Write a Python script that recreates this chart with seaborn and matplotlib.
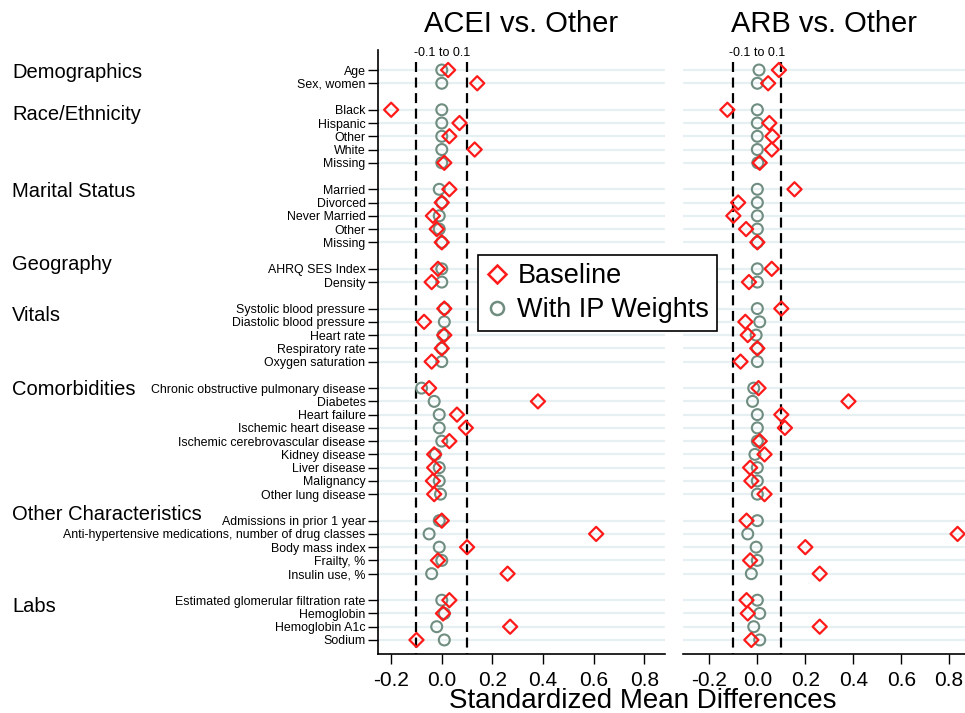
import numpy as np
import pandas as pd
import matplotlib
matplotlib.use("Agg")
import matplotlib.pyplot as plt
import matplotlib.transforms as mtransforms
from matplotlib.lines import Line2D
import seaborn as sns

# ---------- data ----------
groups = ["Demographics", "Race/Ethnicity", "Marital Status", "Geography",
          "Vitals", "Comorbidities", "Other Characteristics", "Labs"]
group_items = [
    ["Age", "Sex, women"],
    ["Black", "Hispanic", "Other", "White", "Missing"],
    ["Married", "Divorced", "Never Married", "Other", "Missing"],
    ["AHRQ SES Index", "Density"],
    ["Systolic blood pressure", "Diastolic blood pressure", "Heart rate",
     "Respiratory rate", "Oxygen saturation"],
    ["Chronic obstructive pulmonary disease", "Diabetes", "Heart failure",
     "Ischemic heart disease", "Ischemic cerebrovascular disease",
     "Kidney disease", "Liver disease", "Malignancy", "Other lung disease"],
    ["Admissions in prior 1 year",
     "Anti-hypertensive medications, number of drug classes",
     "Body mass index", "Frailty, %", "Insulin use, %"],
    ["Estimated glomerular filtration rate", "Hemoglobin", "Hemoglobin A1c",
     "Sodium"],
]

acei_base = [0.025, 0.14,
             -0.20, 0.07, 0.03, 0.13, 0.01,
             0.03, 0.0, -0.035, -0.02, 0.0,
             -0.015, -0.04,
             0.01, -0.07, 0.01, 0.0, -0.04,
             -0.05, 0.38, 0.06, 0.095, 0.03, -0.03, -0.03, -0.035, -0.03,
             0.0, 0.61, 0.10, -0.015, 0.26,
             0.03, 0.005, 0.27, -0.10]
acei_ipw = [0.0, 0.0,
            0.0, 0.0, 0.0, 0.0, 0.0,
            -0.01, 0.0, -0.01, -0.01, 0.0,
            0.0, 0.0,
            0.01, 0.01, 0.005, 0.0, 0.0,
            -0.08, -0.03, -0.01, -0.01, 0.0, -0.025, -0.01, -0.01, -0.005,
            -0.01, -0.05, -0.01, 0.0, -0.04,
            0.0, 0.01, -0.02, 0.01]
arb_base = [0.09, 0.045,
            -0.125, 0.05, 0.063, 0.06, 0.01,
            0.155, -0.08, -0.10, -0.047, 0.0,
            0.06, -0.035,
            0.10, -0.05, -0.04, 0.0, -0.07,
            0.005, 0.38, 0.10, 0.115, 0.01, 0.03, -0.03, -0.025, 0.03,
            -0.045, 0.835, 0.20, -0.03, 0.26,
            -0.045, -0.04, 0.26, -0.025]
arb_ipw = [0.007, 0.0,
           0.0, 0.0, 0.0, 0.0, 0.002,
           0.0, 0.0, 0.0, 0.0, 0.0,
           0.0, 0.0,
           0.0, 0.01, -0.005, 0.0, 0.0,
           -0.015, -0.02, 0.0, 0.0, 0.0, -0.01, 0.0, 0.0, 0.0,
           0.0, -0.04, -0.005, 0.0, -0.025,
           0.0, 0.01, -0.015, 0.01]

x_ticks = [-0.2, 0.0, 0.2, 0.4, 0.6, 0.8]
x_ticklabels = ["-0.2", "0.0", "0.2", "0.4", "0.6", "0.8"]

# small vertical nudges of the group headings (in rows)
heading_nudge = [0.15, 0.35, 0.15, -0.3, 0.5, 0.1, -0.45, 0.45]

# row positions: one empty row between groups
labels, rows, group_rows = [], [], []
r = 0
for g, items in zip(groups, group_items):
    group_rows.append(r)
    for it in items:
        labels.append(it)
        rows.append(r)
        r += 1
    r += 1

df = pd.DataFrame({"label": labels, "row": rows,
                   "acei_base": acei_base, "acei_ipw": acei_ipw,
                   "arb_base": arb_base, "arb_ipw": arb_ipw})

RED = "#ff1a1a"
GREEN = "#6f8d80"
GRID = "#e6eff1"

sns.set_theme(style="ticks")
plt.rcParams["font.family"] = ["Liberation Sans", "DejaVu Sans"]
plt.rcParams["text.color"] = "black"
plt.rcParams["axes.labelcolor"] = "black"
plt.rcParams["xtick.color"] = "black"
plt.rcParams["ytick.color"] = "black"

fig = plt.figure(figsize=(9.65, 7.13), dpi=100)
W, H = 965, 713
ax1 = fig.add_axes([378 / W, 1 - 654 / H, (665 - 378) / W, (654 - 50) / H])
ax2 = fig.add_axes([683 / W, 1 - 654 / H, (965 - 683) / W, (654 - 50) / H])

panels = [(ax1, "acei", "ACEI vs. Other", (-0.252, 0.882)),
          (ax2, "arb", "ARB vs. Other", (-0.31, 0.866))]

for ax, key, title, xlim in panels:
    for y in df["row"]:
        ax.axhline(y, color=GRID, lw=1.6, zorder=0)
    ax.vlines([-0.1, 0.1], -0.6, 44.2, colors="black", lw=1.6,
              linestyles=(0, (4.5, 2.5)), zorder=1)
    ax.text(0.0, -1.3, "-0.1 to 0.1", ha="center", va="center", fontsize=9)
    sns.scatterplot(data=df, x=key + "_ipw", y="row", ax=ax, marker="o",
                    s=62, facecolor="none", edgecolor=GREEN, linewidth=1.5,
                    zorder=3)
    sns.scatterplot(data=df, x=key + "_base", y="row", ax=ax, marker="D",
                    s=52, facecolor="none", edgecolor=RED, linewidth=1.6,
                    zorder=4, clip_on=False)
    ax.set_xlim(*xlim)
    ax.set_ylim(44.06, -1.51)
    ax.set_xticks(x_ticks)
    ax.set_xticklabels(x_ticklabels, fontsize=15)
    ax.set_xlabel("")
    ax.set_ylabel("")
    ax.set_title(title, fontsize=21, pad=13)
    ax.tick_params(axis="x", length=7, width=1, color="black", pad=5)
    for s in ["top", "right"]:
        ax.spines[s].set_visible(False)
    ax.spines["bottom"].set_color("black")
    ax.spines["bottom"].set_linewidth(1.2)

ax1.set_yticks(df["row"])
ax1.set_yticklabels(df["label"], fontsize=8.9)
ax1.tick_params(axis="y", length=7, width=1, color="black", pad=2)
ax1.spines["left"].set_color("black")
ax1.spines["left"].set_linewidth(1.2)

ax2.set_yticks([])
ax2.spines["left"].set_visible(False)

# group headings on the far left
trans = mtransforms.blended_transform_factory(fig.transFigure, ax1.transData)
for g, gr, nd in zip(groups, group_rows, heading_nudge):
    ax1.text(12 / W, gr + nd, g, transform=trans, ha="left", va="center",
             fontsize=14.5)

fig.text(643 / W, 1 - 701 / H, "Standardized Mean Differences",
         ha="center", va="center", fontsize=20)

handles = [Line2D([], [], ls="none", marker="D", markersize=9.2,
                  markerfacecolor="none", markeredgecolor=RED,
                  markeredgewidth=1.8, label="Baseline"),
           Line2D([], [], ls="none", marker="o", markersize=9.4,
                  markerfacecolor="none", markeredgecolor=GREEN,
                  markeredgewidth=1.8, label="With IP Weights")]
leg = fig.legend(handles=handles, loc="upper left",
                 bbox_to_anchor=(478 / W, 1 - 255 / H), fontsize=19.5,
                 frameon=True, fancybox=False, framealpha=1,
                 edgecolor="black", handletextpad=0.35, borderpad=0.3,
                 labelspacing=0.3, handlelength=0.8, borderaxespad=0)
leg.get_frame().set_linewidth(1.2)

fig.savefig("out.png", dpi=100)
